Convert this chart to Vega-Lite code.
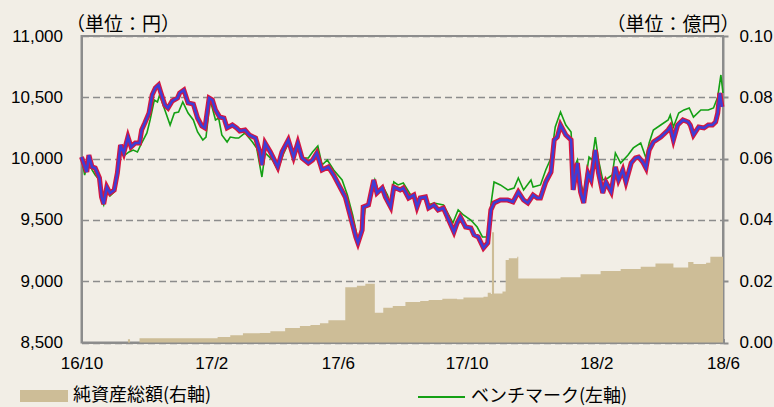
{
  "$schema": "https://vega.github.io/schema/vega-lite/v6.json",
  "autosize": "none",
  "width": 641.5,
  "height": 306.5,
  "padding": {"left": 81.5, "top": 36, "right": 51, "bottom": 64.5},
  "background": "#F2EEE6",
  "config": {
    "font": "Liberation Sans",
    "view": {"stroke": "#8c8c8c", "strokeWidth": 2},
    "axis": {"labelFont": "Liberation Sans", "labelFontSize": 17, "labelColor": "#000", "domainColor": "#8c8c8c", "domainWidth": 2, "labelFlush": false, "labelOverlap": false},
    "legend": {"labelFont": "Noto Sans CJK JP", "labelFontSize": 18, "labelColor": "#000", "padding": 0, "offset": 0}
  },
  "datasets": {
    "fund": [
      {"d":"2016-10-01","v":10013},{"d":"2016-10-06","v":9891},{"d":"2016-10-08","v":10029},{"d":"2016-10-11","v":9932},{"d":"2016-10-14","v":9923},{"d":"2016-10-18","v":9842},{"d":"2016-10-20","v":9687},{"d":"2016-10-22","v":9630},{"d":"2016-10-25","v":9768},{"d":"2016-10-28","v":9719},{"d":"2016-11-01","v":9744},{"d":"2016-11-04","v":9883},{"d":"2016-11-07","v":10111},{"d":"2016-11-10","v":10046},{"d":"2016-11-14","v":10176},{"d":"2016-11-17","v":10095},{"d":"2016-11-21","v":10127},{"d":"2016-11-25","v":10127},{"d":"2016-11-27","v":10233},{"d":"2016-11-30","v":10290},{"d":"2016-12-04","v":10372},{"d":"2016-12-07","v":10519},{"d":"2016-12-10","v":10576},{"d":"2016-12-13","v":10600},{"d":"2016-12-15","v":10543},{"d":"2016-12-19","v":10437},{"d":"2016-12-22","v":10413},{"d":"2016-12-26","v":10470},{"d":"2016-12-31","v":10494},{"d":"2017-01-02","v":10535},{"d":"2017-01-06","v":10560},{"d":"2017-01-10","v":10454},{"d":"2017-01-15","v":10445},{"d":"2017-01-19","v":10331},{"d":"2017-01-23","v":10266},{"d":"2017-01-26","v":10250},{"d":"2017-01-30","v":10494},{"d":"2017-02-02","v":10478},{"d":"2017-02-05","v":10397},{"d":"2017-02-09","v":10339},{"d":"2017-02-13","v":10331},{"d":"2017-02-16","v":10250},{"d":"2017-02-21","v":10274},{"d":"2017-02-25","v":10250},{"d":"2017-02-28","v":10225},{"d":"2017-03-05","v":10233},{"d":"2017-03-09","v":10193},{"d":"2017-03-15","v":10168},{"d":"2017-03-19","v":10054},{"d":"2017-03-21","v":9948},{"d":"2017-03-24","v":10127},{"d":"2017-03-29","v":10054},{"d":"2017-04-05","v":9932},{"d":"2017-04-09","v":10054},{"d":"2017-04-15","v":10152},{"d":"2017-04-20","v":10013},{"d":"2017-04-24","v":10127},{"d":"2017-04-28","v":10005},{"d":"2017-05-04","v":9964},{"d":"2017-05-08","v":9989},{"d":"2017-05-12","v":10046},{"d":"2017-05-17","v":9907},{"d":"2017-05-23","v":9932},{"d":"2017-05-28","v":9866},{"d":"2017-06-03","v":9768},{"d":"2017-06-08","v":9687},{"d":"2017-06-13","v":9524},{"d":"2017-06-18","v":9361},{"d":"2017-06-20","v":9312},{"d":"2017-06-24","v":9418},{"d":"2017-06-25","v":9605},{"d":"2017-06-30","v":9622},{"d":"2017-07-05","v":9826},{"d":"2017-07-08","v":9719},{"d":"2017-07-13","v":9760},{"d":"2017-07-16","v":9687},{"d":"2017-07-21","v":9605},{"d":"2017-07-24","v":9768},{"d":"2017-07-30","v":9744},{"d":"2017-08-02","v":9760},{"d":"2017-08-07","v":9679},{"d":"2017-08-12","v":9703},{"d":"2017-08-15","v":9605},{"d":"2017-08-18","v":9679},{"d":"2017-08-23","v":9687},{"d":"2017-08-26","v":9597},{"d":"2017-08-31","v":9622},{"d":"2017-09-04","v":9581},{"d":"2017-09-09","v":9597},{"d":"2017-09-14","v":9499},{"d":"2017-09-19","v":9401},{"d":"2017-09-22","v":9475},{"d":"2017-09-25","v":9524},{"d":"2017-09-30","v":9442},{"d":"2017-10-05","v":9434},{"d":"2017-10-08","v":9377},{"d":"2017-10-12","v":9361},{"d":"2017-10-17","v":9271},{"d":"2017-10-21","v":9312},{"d":"2017-10-24","v":9581},{"d":"2017-10-27","v":9638},{"d":"2017-11-02","v":9662},{"d":"2017-11-09","v":9662},{"d":"2017-11-14","v":9646},{"d":"2017-11-19","v":9728},{"d":"2017-11-24","v":9662},{"d":"2017-11-28","v":9638},{"d":"2017-12-03","v":9703},{"d":"2017-12-07","v":9679},{"d":"2017-12-10","v":9679},{"d":"2017-12-15","v":9809},{"d":"2017-12-20","v":9891},{"d":"2017-12-23","v":10152},{"d":"2017-12-26","v":10176},{"d":"2017-12-29","v":10274},{"d":"2018-01-03","v":10193},{"d":"2018-01-08","v":10152},{"d":"2018-01-10","v":9744},{"d":"2018-01-14","v":9964},{"d":"2018-01-17","v":9728},{"d":"2018-01-20","v":9638},{"d":"2018-01-24","v":9883},{"d":"2018-01-27","v":9826},{"d":"2018-01-31","v":10070},{"d":"2018-02-03","v":9883},{"d":"2018-02-07","v":9719},{"d":"2018-02-10","v":9809},{"d":"2018-02-15","v":9728},{"d":"2018-02-19","v":9932},{"d":"2018-02-22","v":9826},{"d":"2018-02-26","v":9907},{"d":"2018-03-01","v":9809},{"d":"2018-03-06","v":9964},{"d":"2018-03-10","v":10005},{"d":"2018-03-13","v":10013},{"d":"2018-03-17","v":9972},{"d":"2018-03-20","v":9923},{"d":"2018-03-23","v":10070},{"d":"2018-03-27","v":10135},{"d":"2018-04-03","v":10176},{"d":"2018-04-10","v":10233},{"d":"2018-04-12","v":10258},{"d":"2018-04-15","v":10152},{"d":"2018-04-19","v":10274},{"d":"2018-04-24","v":10315},{"d":"2018-04-29","v":10299},{"d":"2018-05-01","v":10274},{"d":"2018-05-04","v":10193},{"d":"2018-05-09","v":10258},{"d":"2018-05-14","v":10250},{"d":"2018-05-18","v":10274},{"d":"2018-05-22","v":10274},{"d":"2018-05-25","v":10299},{"d":"2018-05-27","v":10372},{"d":"2018-05-29","v":10535},{"d":"2018-05-31","v":10421}
    ],
    "bench": [
      {"d":"2016-10-01","v":10005},{"d":"2016-10-04","v":9866},{"d":"2016-10-08","v":10013},{"d":"2016-10-11","v":9907},{"d":"2016-10-14","v":9866},{"d":"2016-10-18","v":9826},{"d":"2016-10-20","v":9662},{"d":"2016-10-22","v":9622},{"d":"2016-10-25","v":9744},{"d":"2016-10-28","v":9695},{"d":"2016-11-01","v":9728},{"d":"2016-11-04","v":9858},{"d":"2016-11-07","v":10087},{"d":"2016-11-10","v":10021},{"d":"2016-11-15","v":10054},{"d":"2016-11-19","v":10070},{"d":"2016-11-23","v":10054},{"d":"2016-11-27","v":10127},{"d":"2016-12-02","v":10209},{"d":"2016-12-05","v":10315},{"d":"2016-12-09","v":10478},{"d":"2016-12-12","v":10462},{"d":"2016-12-14","v":10519},{"d":"2016-12-19","v":10397},{"d":"2016-12-24","v":10274},{"d":"2016-12-28","v":10372},{"d":"2017-01-01","v":10380},{"d":"2017-01-05","v":10462},{"d":"2017-01-10","v":10372},{"d":"2017-01-15","v":10315},{"d":"2017-01-19","v":10217},{"d":"2017-01-24","v":10152},{"d":"2017-01-27","v":10176},{"d":"2017-01-31","v":10478},{"d":"2017-02-05","v":10315},{"d":"2017-02-08","v":10331},{"d":"2017-02-11","v":10193},{"d":"2017-02-16","v":10135},{"d":"2017-02-19","v":10176},{"d":"2017-02-24","v":10168},{"d":"2017-02-27","v":10168},{"d":"2017-03-05","v":10209},{"d":"2017-03-12","v":10135},{"d":"2017-03-16","v":10087},{"d":"2017-03-21","v":9850},{"d":"2017-03-24","v":10046},{"d":"2017-03-31","v":9989},{"d":"2017-04-05","v":9907},{"d":"2017-04-10","v":10029},{"d":"2017-04-15","v":10127},{"d":"2017-04-20","v":10005},{"d":"2017-04-24","v":10111},{"d":"2017-04-29","v":10005},{"d":"2017-05-04","v":10005},{"d":"2017-05-08","v":10054},{"d":"2017-05-13","v":10103},{"d":"2017-05-17","v":9948},{"d":"2017-05-22","v":9989},{"d":"2017-05-28","v":9907},{"d":"2017-06-05","v":9826},{"d":"2017-06-10","v":9703},{"d":"2017-06-15","v":9540},{"d":"2017-06-20","v":9336},{"d":"2017-06-24","v":9401},{"d":"2017-06-27","v":9605},{"d":"2017-06-30","v":9622},{"d":"2017-07-06","v":9826},{"d":"2017-07-09","v":9744},{"d":"2017-07-14","v":9768},{"d":"2017-07-18","v":9703},{"d":"2017-07-21","v":9622},{"d":"2017-07-24","v":9809},{"d":"2017-07-28","v":9785},{"d":"2017-08-02","v":9801},{"d":"2017-08-09","v":9703},{"d":"2017-08-16","v":9662},{"d":"2017-08-21","v":9687},{"d":"2017-08-25","v":9622},{"d":"2017-08-31","v":9638},{"d":"2017-09-09","v":9622},{"d":"2017-09-14","v":9540},{"d":"2017-09-18","v":9475},{"d":"2017-09-23","v":9581},{"d":"2017-09-28","v":9540},{"d":"2017-10-05","v":9499},{"d":"2017-10-11","v":9442},{"d":"2017-10-16","v":9361},{"d":"2017-10-21","v":9361},{"d":"2017-10-24","v":9622},{"d":"2017-10-27","v":9809},{"d":"2017-11-02","v":9785},{"d":"2017-11-09","v":9744},{"d":"2017-11-15","v":9760},{"d":"2017-11-19","v":9842},{"d":"2017-11-24","v":9744},{"d":"2017-12-01","v":9826},{"d":"2017-12-03","v":9768},{"d":"2017-12-10","v":9785},{"d":"2017-12-15","v":9907},{"d":"2017-12-20","v":10005},{"d":"2017-12-24","v":10258},{"d":"2017-12-29","v":10380},{"d":"2018-01-03","v":10274},{"d":"2018-01-08","v":10217},{"d":"2018-01-10","v":9907},{"d":"2018-01-14","v":9989},{"d":"2018-01-17","v":9801},{"d":"2018-01-20","v":9719},{"d":"2018-01-25","v":10013},{"d":"2018-01-28","v":9989},{"d":"2018-01-31","v":10176},{"d":"2018-02-03","v":9989},{"d":"2018-02-07","v":9826},{"d":"2018-02-12","v":9842},{"d":"2018-02-16","v":9866},{"d":"2018-02-19","v":10046},{"d":"2018-02-24","v":9964},{"d":"2018-03-03","v":10029},{"d":"2018-03-08","v":10087},{"d":"2018-03-15","v":10127},{"d":"2018-03-20","v":10005},{"d":"2018-03-23","v":10127},{"d":"2018-03-27","v":10233},{"d":"2018-04-03","v":10274},{"d":"2018-04-10","v":10315},{"d":"2018-04-12","v":10356},{"d":"2018-04-15","v":10258},{"d":"2018-04-20","v":10372},{"d":"2018-04-25","v":10397},{"d":"2018-04-30","v":10413},{"d":"2018-05-04","v":10339},{"d":"2018-05-11","v":10397},{"d":"2018-05-18","v":10397},{"d":"2018-05-23","v":10413},{"d":"2018-05-27","v":10503},{"d":"2018-05-30","v":10682},{"d":"2018-06-01","v":10535}
    ],
    "nav": [
      {"d":"2016-10-01","v":0},{"d":"2016-11-11","v":0},{"d":"2016-11-14","v":0.0011},{"d":"2016-11-16","v":0},{"d":"2016-11-25","v":0.0014},{"d":"2017-01-31","v":0.0014},{"d":"2017-02-07","v":0.0018},{"d":"2017-02-19","v":0.0024},{"d":"2017-03-03","v":0.003},{"d":"2017-03-19","v":0.0031},{"d":"2017-03-29","v":0.0037},{"d":"2017-04-12","v":0.0047},{"d":"2017-04-26","v":0.0054},{"d":"2017-05-06","v":0.0057},{"d":"2017-05-15","v":0.0063},{"d":"2017-05-23","v":0.0073},{"d":"2017-06-08","v":0.018},{"d":"2017-06-19","v":0.0185},{"d":"2017-06-27","v":0.0192},{"d":"2017-07-06","v":0.0097},{"d":"2017-07-14","v":0.0113},{"d":"2017-07-23","v":0.0119},{"d":"2017-08-04","v":0.0132},{"d":"2017-08-18","v":0.0135},{"d":"2017-08-26","v":0.0139},{"d":"2017-09-08","v":0.0143},{"d":"2017-09-22","v":0.0141},{"d":"2017-09-28","v":0.0147},{"d":"2017-10-17","v":0.0149},{"d":"2017-10-21","v":0.0162},{"d":"2017-10-24","v":0.0158},{"d":"2017-10-25","v":0.036},{"d":"2017-10-27","v":0.016},{"d":"2017-11-04","v":0.0166},{"d":"2017-11-07","v":0.0269},{"d":"2017-11-10","v":0.0275},{"d":"2017-11-18","v":0.028},{"d":"2017-11-19","v":0.0209},{"d":"2017-12-10","v":0.0209},{"d":"2017-12-29","v":0.0213},{"d":"2018-01-17","v":0.0223},{"d":"2018-02-05","v":0.0233},{"d":"2018-02-24","v":0.024},{"d":"2018-03-15","v":0.0247},{"d":"2018-03-29","v":0.0258},{"d":"2018-04-15","v":0.0245},{"d":"2018-04-29","v":0.0263},{"d":"2018-05-04","v":0.0256},{"d":"2018-05-16","v":0.026},{"d":"2018-05-20","v":0.028},{"d":"2018-06-01","v":0.0289}
    ]
  },
  "encoding": {
    "x": {
      "field": "d", "type": "temporal",
      "scale": {"type": "utc", "domain": [{"year": 2016, "month": 10, "date": 1, "utc": true}, {"year": 2018, "month": 6, "date": 1, "utc": true}]},
      "axis": {
        "title": null, "labelExpr": "utcFormat(datum.value, '%y/%-m')",
        "values": [{"year": 2016, "month": 10, "date": 1, "utc": true}, {"year": 2017, "month": 2, "date": 1, "utc": true}, {"year": 2017, "month": 6, "date": 1, "utc": true}, {"year": 2017, "month": 10, "date": 1, "utc": true}, {"year": 2018, "month": 2, "date": 1, "utc": true}, {"year": 2018, "month": 6, "date": 1, "utc": true}],
        "grid": false, "tickSize": -4, "tickColor": "#8c8c8c", "tickWidth": 2, "labelPadding": 17
      }
    }
  },
  "layer": [
    {
      "data": {"name": "nav"},
      "mark": {"type": "area", "interpolate": "step-after"},
      "encoding": {
        "y": {
          "field": "v", "type": "quantitative",
          "scale": {"domain": [0, 0.1], "nice": false, "zero": true},
          "axis": {
            "orient": "right", "values": [0, 0.02, 0.04, 0.06, 0.08, 0.1], "format": ".2f",
            "grid": false, "tickSize": 5, "tickColor": "#8c8c8c", "tickWidth": 2, "labelPadding": 11,
            "title": "（単位：億円）", "titleAngle": 0, "titleAlign": "center", "titleBaseline": "middle",
            "titleX": -50.5, "titleY": -11.5, "titleFont": "Noto Sans CJK JP", "titleFontSize": 19,
            "titleFontWeight": "normal", "titleColor": "#000"
          }
        },
        "fill": {
          "datum": "純資産総額(右軸)", "type": "nominal",
          "scale": {"range": ["#CDBD97"]},
          "legend": {"orient": "none", "legendX": -61.5, "legendY": 336, "title": null, "symbolType": "M-1,-0.25H1V0.25H-1Z", "symbolSize": 2304, "symbolStrokeWidth": 0, "labelOffset": 5}
        }
      }
    },
    {
      "layer": [
        {
          "data": {"name": "bench"},
          "mark": {"type": "line", "strokeWidth": 1.6},
          "encoding": {
            "y": {
              "field": "v", "type": "quantitative",
              "scale": {"domain": [8500, 11000], "nice": false, "zero": false},
              "axis": {
                "orient": "left", "values": [8500, 9000, 9500, 10000, 10500, 11000], "format": ",.0f",
                "grid": true, "gridDash": [7, 4], "gridColor": "#8c8c8c", "gridWidth": 1.5,
                "ticks": false, "labelPadding": 19,
                "title": "（単位：円）", "titleAngle": 0, "titleAlign": "center", "titleBaseline": "middle",
                "titleX": 41, "titleY": -11.5, "titleFont": "Noto Sans CJK JP", "titleFontSize": 19,
                "titleFontWeight": "normal", "titleColor": "#000"
              }
            },
            "stroke": {
              "datum": "ベンチマーク(左軸)", "type": "nominal",
              "scale": {"range": ["#14A014"]},
              "legend": {"orient": "none", "legendX": 335.5, "legendY": 336.5, "title": null, "symbolType": "stroke", "symbolSize": 2209, "symbolStrokeWidth": 2, "labelOffset": 5}
            }
          }
        },
        {
          "data": {"name": "fund"},
          "mark": {"type": "line", "strokeWidth": 5, "color": "#D6163F"},
          "encoding": {"y": {"field": "v", "type": "quantitative"}}
        },
        {
          "data": {"name": "fund"},
          "mark": {"type": "line", "strokeWidth": 2.5, "color": "#3E3ED6"},
          "encoding": {"y": {"field": "v", "type": "quantitative"}}
        }
      ]
    }
  ],
  "resolve": {"scale": {"y": "independent"}}
}
